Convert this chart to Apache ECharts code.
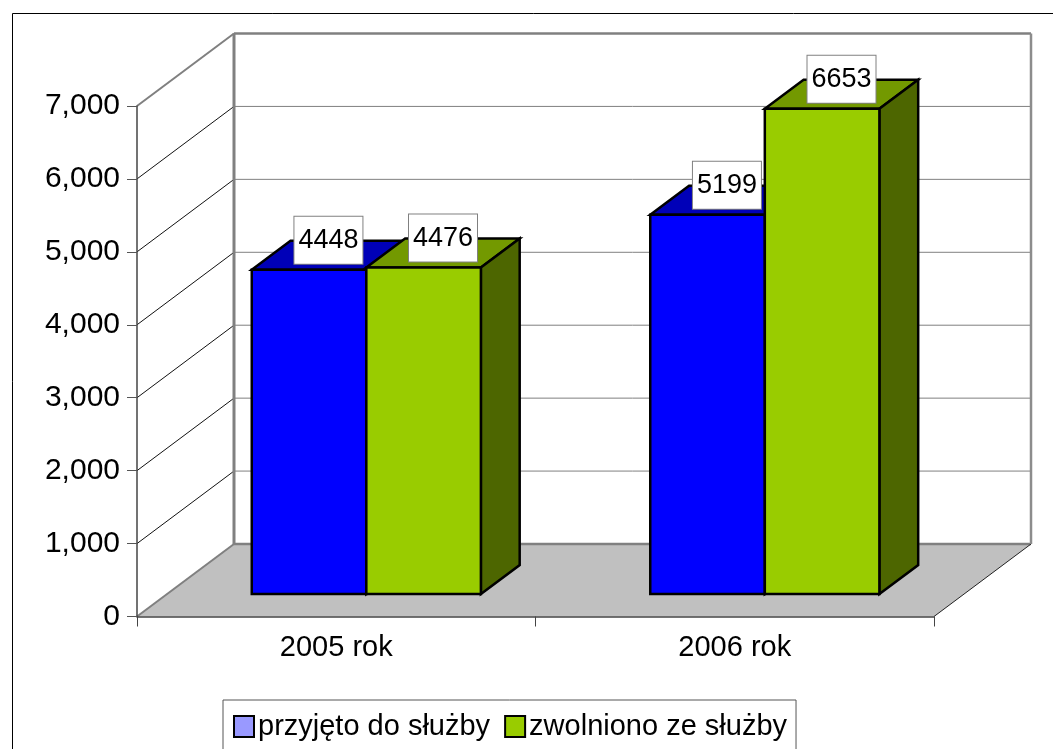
<!DOCTYPE html>
<html><head><meta charset="utf-8">
<style>html,body{margin:0;padding:0;background:#fff;overflow:hidden}#c{width:1053px;height:749px}</style>
<script src="https://cdn.jsdelivr.net/npm/echarts@6/dist/echarts.min.js"></script>
</head><body><div id="c"></div>
<script>
const categories = ['2005 rok', '2006 rok'];
const admitted = [4448, 5199];
const dismissed = [4476, 6653];
const seriesNames = ['przyjęto do służby', 'zwolniono ze służby'];
const yTicks = [0, 1000, 2000, 3000, 4000, 5000, 6000, 7000];

const FONT = '"Liberation Sans", Arial, sans-serif';
const WALL_DX = 97, WALL_DY = 72.5;      // perspective depth of the chart box
const BAR_FRONT = 0.31, BAR_DEPTH = 0.4; // fractions of that depth
const BAR_BAND = 0.2875;                 // bar width as a share of a category band
const STROKE = 2.5;

const chart = echarts.init(document.getElementById('c'), null, {renderer: 'canvas'});

function renderWall(params, api) {
  const v = api.value(1);
  const [x0, y] = api.coord([0, v]);
  const band = api.size([1, 0])[0];
  const x1 = x0 - band / 2, x2 = x0 + band * 1.5;
  const bx = x1 + WALL_DX, by = y - WALL_DY, ex = x2 + WALL_DX;
  const line = (a, b, c, d, color, w) => ({type: 'line', shape: {x1: a, y1: b, x2: c, y2: d},
    style: {stroke: color, lineWidth: w}, silent: true});
  const kids = [];
  if (v === yTicks[0]) {
    kids.push({type: 'polygon', shape: {points: [[x1, y], [bx, by], [ex, by], [x2, y]]},
      style: {fill: '#c0c0c0'}, silent: true});
    kids.push(line(x1, y, bx, by, '#808080', 2));
    kids.push(line(bx, by, ex, by, '#808080', 2.5));
    kids.push(line(x2, y, ex, by, '#222', 1));
  } else {
    const top = v === yTicks[yTicks.length - 1];
    kids.push(line(x1, y, bx, by, top ? '#808080' : '#111', top ? 2 : 1));
    kids.push(line(bx, by, ex, by, '#808080', top ? 2.5 : 1));
    if (top) {
      const [, yb] = api.coord([0, yTicks[0]]);
      kids.push(line(bx, by, bx, yb - WALL_DY, '#808080', 3));
      kids.push(line(ex, by, ex, yb - WALL_DY, '#8c8c8c', 2.5));
    }
  }
  return {type: 'group', children: kids};
}

function barRenderer(slot, front, topC, side) {
  return function (params, api) {
    const c = api.coord([api.value(0), api.value(1)]);
    const base = api.coord([api.value(0), 0]);
    const band = api.size([1, 0])[0];
    const w = band * BAR_BAND;
    const fx = WALL_DX * BAR_FRONT, fy = WALL_DY * BAR_FRONT;
    const dx = WALL_DX * BAR_DEPTH, dy = WALL_DY * BAR_DEPTH;
    const L = c[0] + fx + (slot - 1) * w, R = L + w;
    const T = c[1] - fy, B = base[1] - fy;
    const st = fill => ({fill, stroke: '#000', lineWidth: STROKE, lineJoin: 'miter'});
    return {type: 'group', children: [
      {type: 'polygon', shape: {points: [[L, T], [L + dx, T - dy], [R + dx, T - dy], [R, T]]}, style: st(topC)},
      {type: 'polygon', shape: {points: [[R, T], [R + dx, T - dy], [R + dx, B - dy], [R, B]]}, style: st(side)},
      {type: 'rect', shape: {x: L, y: T, width: w, height: B - T}, style: st(front)}
    ]};
  };
}

function labelRenderer(slot) {
  return function (params, api) {
    const c = api.coord([api.value(0), api.value(1)]);
    const band = api.size([1, 0])[0];
    const w = band * BAR_BAND;
    const L = c[0] + WALL_DX * BAR_FRONT + (slot - 1) * w;
    const T = c[1] - WALL_DY * BAR_FRONT;
    const dx = WALL_DX * BAR_DEPTH, dy = WALL_DY * BAR_DEPTH;
    return {type: 'text', z2: 100, style: {
      text: String(api.value(1)), x: L + w / 2 + dx / 2, y: T - dy / 2 - 15,
      align: 'center', verticalAlign: 'middle', fill: '#000',
      font: '27px ' + FONT, backgroundColor: '#fff', borderColor: '#808080', borderWidth: 1,
      padding: [8, 4, 8, 4], width: 60, height: 31, lineHeight: 31
    }};
  };
}

const pairs = a => a.map((v, i) => [i, v]);

chart.setOption({
  animation: false,
  backgroundColor: '#fff',
  textStyle: {fontFamily: FONT},
  graphic: [{type: 'rect', left: 10, top: 11, shape: {x: 0, y: 0, width: 1200, height: 900},
    style: {fill: 'none', stroke: '#000', lineWidth: 1}, silent: true, z: -1}],
  grid: {left: 137, right: 119, top: 106, bottom: 132.5},
  xAxis: {type: 'category', data: categories, boundaryGap: true, z: 6,
    axisLine: {lineStyle: {color: '#444', width: 1.5}},
    axisTick: {show: true, length: 10, alignWithLabel: false, lineStyle: {color: '#444', width: 1}},
    axisLabel: {color: '#000', fontSize: 29, margin: 17, fontFamily: FONT},
    splitLine: {show: false}},
  yAxis: {type: 'value', min: 0, max: 7000, interval: 1000, z: 6,
    axisLine: {show: true, lineStyle: {color: '#444', width: 1.5}},
    axisTick: {show: true, length: 10, lineStyle: {color: '#555', width: 1}},
    axisLabel: {color: '#000', fontSize: 30, margin: 17, fontFamily: FONT},
    splitLine: {show: false}},
  legend: {
    left: 223, top: 700, orient: 'horizontal', selectedMode: false,
    backgroundColor: '#fff', borderColor: '#555', borderWidth: 1,
    padding: [12, 9, 12, 10], itemGap: 14, itemWidth: 20, itemHeight: 21,
    textStyle: {fontSize: 29, color: '#000', fontFamily: FONT, padding: [0, 0, 0, -1]},
    data: [
      {name: seriesNames[0], icon: 'rect', itemStyle: {color: '#9999ff', borderColor: '#000', borderWidth: 2}},
      {name: seriesNames[1], icon: 'rect', itemStyle: {color: '#99cc00', borderColor: '#000', borderWidth: 2}}
    ]
  },
  series: [
    {type: 'custom', name: 'walls', z: 1, clip: false, silent: true, renderItem: renderWall,
      data: yTicks.map(v => [0, v]), encode: {x: 0, y: 1}},
    {type: 'custom', name: seriesNames[0], z: 3, clip: false, renderItem: barRenderer(0, '#0000ff', '#0000b8', '#000080'),
      data: pairs(admitted), encode: {x: 0, y: 1}},
    {type: 'custom', name: seriesNames[1], z: 4, clip: false, renderItem: barRenderer(1, '#99cc00', '#739900', '#4d6600'),
      data: pairs(dismissed), encode: {x: 0, y: 1}},
    {type: 'custom', name: 'labelsA', z: 7, clip: false, renderItem: labelRenderer(0),
      data: pairs(admitted), encode: {x: 0, y: 1}},
    {type: 'custom', name: 'labelsB', z: 7, clip: false, renderItem: labelRenderer(1),
      data: pairs(dismissed), encode: {x: 0, y: 1}}
  ]
});
</script></body></html>
